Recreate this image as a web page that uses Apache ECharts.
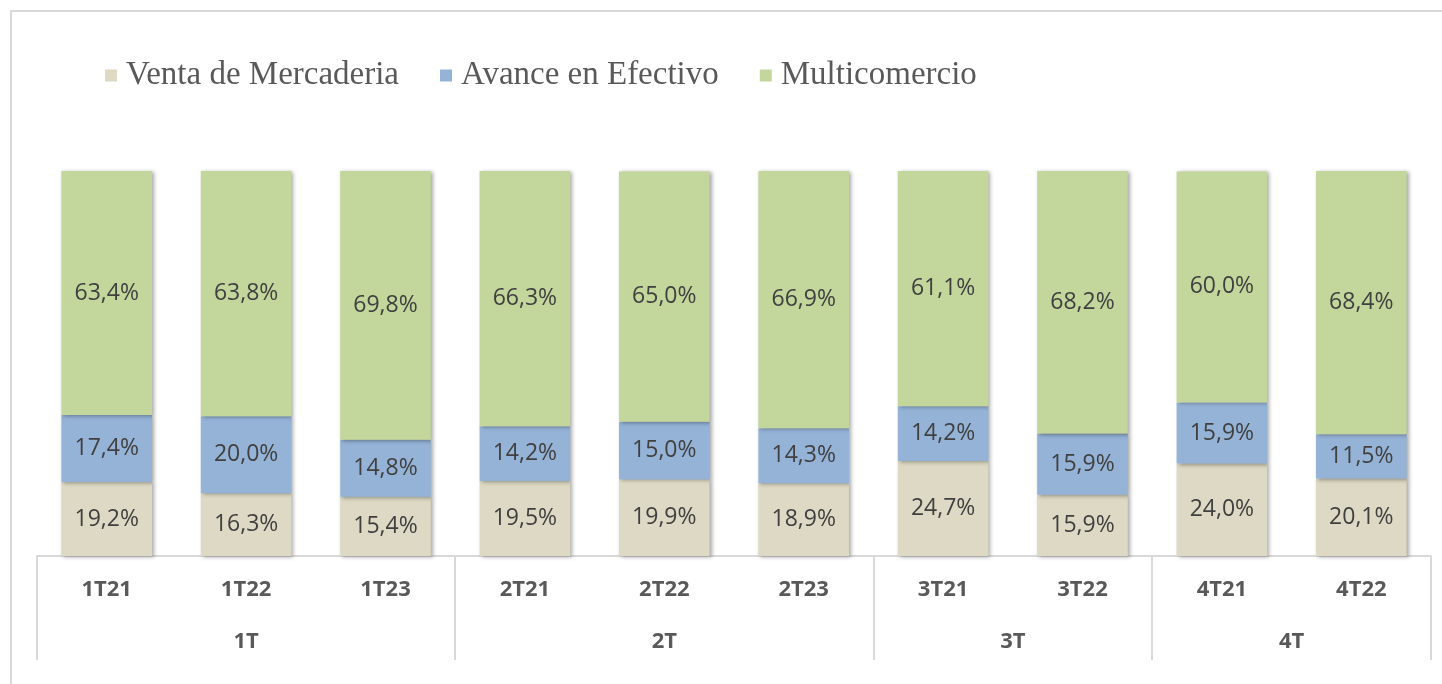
<!DOCTYPE html>
<html>
<head>
<meta charset="utf-8">
<script src="https://cdn.jsdelivr.net/npm/echarts@6/dist/echarts.min.js"></script>
<style>
html,body{margin:0;padding:0;background:#fff;}
#c{width:1442px;height:684px;}
</style>
</head>
<body>
<div id="c"></div>
<script>
const categories = ['1T21','1T22','1T23','2T21','2T22','2T23','3T21','3T22','4T21','4T22'];
const groups = ['1T','2T','3T','4T'];
const groupSizes = [3,3,2,2];
const ventaMercaderia = [19.2,16.3,15.4,19.5,19.9,18.9,24.7,15.9,24.0,20.1];
const avanceEfectivo  = [17.4,20.0,14.8,14.2,15.0,14.3,14.2,15.9,15.9,11.5];
const multicomercio   = [63.4,63.8,69.8,66.3,65.0,66.9,61.1,68.2,60.0,68.4];

// group boundaries and centers (in category units)
const bounds = [0];
groupSizes.forEach(s => bounds.push(bounds[bounds.length-1] + s));
const centers = groupSizes.map((s,i) => bounds[i] + s/2);

const labelFmt = p => p.value.toFixed(1).replace('.', ',') + '%';
const shadow = {shadowColor:'rgba(0,0,0,0.35)', shadowBlur:4, shadowOffsetX:2, shadowOffsetY:1};
const labelStyle = {show:true, position:'inside', formatter:labelFmt,
  fontFamily:'Open Sans', fontSize:23, color:'#404040'};

function mk(name, data, color){
  return {name, type:'bar', stack:'total', data, barWidth:'65%',
    itemStyle:Object.assign({color}, shadow), label:labelStyle,
    emphasis:{disabled:true}};
}

const chart = echarts.init(document.getElementById('c'), null, {renderer:'canvas'});
chart.setOption({
  animation:false,
  backgroundColor:'#fff',
  legend:{
    left:100, top:54, itemWidth:12, itemHeight:12, itemGap:41,
    icon:'rect',
    textStyle:{fontFamily:'Liberation Serif', fontSize:33, color:'#595959', padding:[0,0,0,4]},
    data:['Venta de Mercaderia','Avance en Efectivo','Multicomercio']
  },
  graphic:[{type:'polyline', shape:{points:[[11,684],[11,11],[1442,11]]},
    style:{stroke:'#d9d9d9', lineWidth:2, fill:null}, silent:true}],
  grid:{left:37, right:11, top:171, bottom:128, containLabel:false},
  xAxis:[{
    type:'category', data:categories, position:'bottom',
    axisLine:{show:true, lineStyle:{color:'#d9d9d9', width:2}},
    axisTick:{show:false},
    axisLabel:{margin:23, fontFamily:'Open Sans', fontWeight:'bold', fontSize:22, color:'#595959'}
  },{
    type:'value', min:0, max:categories.length, position:'bottom',
    axisLine:{show:false},
    splitLine:{show:false},
    axisTick:{show:true, customValues:bounds, length:104, lineStyle:{color:'#d9d9d9', width:2}},
    axisLabel:{customValues:centers, margin:75, fontFamily:'Open Sans', fontWeight:'bold', fontSize:22, color:'#595959',
      formatter:(v)=>{ const i = centers.indexOf(v); return i>=0 ? groups[i] : ''; }}
  }],
  yAxis:{type:'value', min:0, max:100, show:false},
  series:[
    mk('Venta de Mercaderia', ventaMercaderia, '#DDD9C4'),
    mk('Avance en Efectivo', avanceEfectivo, '#95B3D7'),
    mk('Multicomercio', multicomercio, '#C3D69B')
  ]
});
</script>
</body>
</html>
